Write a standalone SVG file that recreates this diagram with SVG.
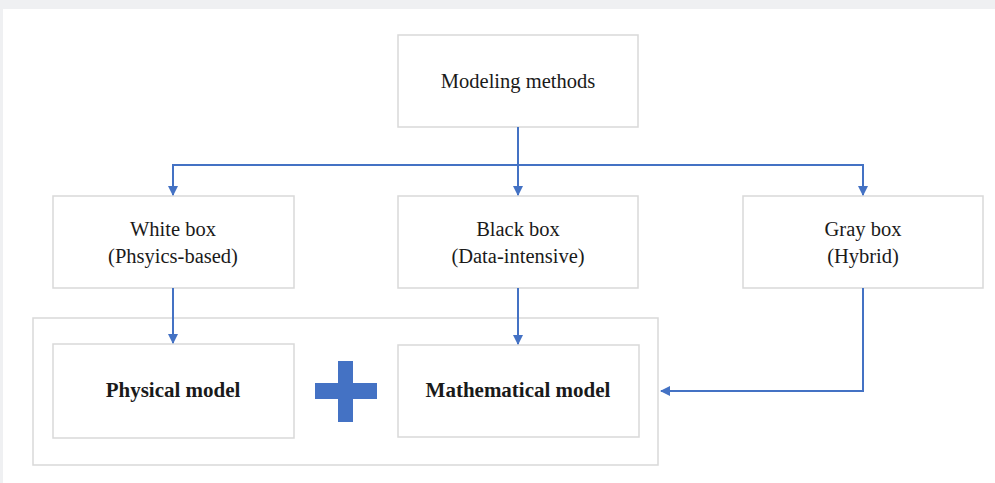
<svg xmlns="http://www.w3.org/2000/svg" width="995" height="483" viewBox="0 0 995 483">
<defs>
<marker id="ah" markerWidth="10" markerHeight="10" refX="9" refY="5" orient="auto" markerUnits="userSpaceOnUse">
<path d="M0,0 L10,5 L0,10 Z" fill="#4472c4"/>
</marker>
<style>
.box{fill:#fff;stroke:#d9d9d9;stroke-width:1.5}
.t{font-family:"Liberation Serif","Times New Roman",serif;font-size:20.5px;fill:#1a1a1a;text-anchor:middle}
.b{font-weight:bold;font-size:21px}
.c{fill:none;stroke:#4472c4;stroke-width:2}
</style>
</defs>
<rect x="0" y="0" width="995" height="483" fill="#eff0f2"/>
<rect x="3" y="9" width="992" height="474" fill="#fff"/>
<g id="container"><rect class="box" x="33" y="318" width="625" height="147"/></g>
<g id="modeling"><rect class="box" x="398" y="35" width="240" height="92"/><text class="t" x="518" y="88">Modeling methods</text></g>
<g id="white"><rect class="box" x="53" y="196" width="241" height="92"/><text class="t" x="173" y="236">White box</text><text class="t" x="173" y="263">(Phsyics-based)</text></g>
<g id="black"><rect class="box" x="398" y="196" width="240" height="92"/><text class="t" x="518" y="236">Black box</text><text class="t" x="518" y="263">(Data-intensive)</text></g>
<g id="gray"><rect class="box" x="743" y="196" width="240" height="92"/><text class="t" x="863" y="236">Gray box</text><text class="t" x="863" y="263">(Hybrid)</text></g>
<g id="physical"><rect class="box" x="53" y="344" width="241" height="94"/><text class="t b" x="173" y="397">Physical model</text></g>
<g id="math"><rect class="box" x="398" y="345" width="241" height="92"/><text class="t b" x="518" y="397">Mathematical model</text></g>
<g id="plus"><rect x="315" y="383" width="62" height="16" fill="#4472c4"/><rect x="338" y="361" width="15" height="61" fill="#4472c4"/></g>
<g id="connectors">
<path class="c" d="M518,127 V195" marker-end="url(#ah)"/>
<path class="c" d="M173,195 V165 H863 V195" fill="none"/>
<path class="c" d="M173,165 V195" marker-end="url(#ah)"/>
<path class="c" d="M863,165 V195" marker-end="url(#ah)"/>
<path class="c" d="M173,288 V343" marker-end="url(#ah)"/>
<path class="c" d="M518,288 V344" marker-end="url(#ah)"/>
<path class="c" d="M863,288 V391 H661" marker-end="url(#ah)"/>
</g>
</svg>
